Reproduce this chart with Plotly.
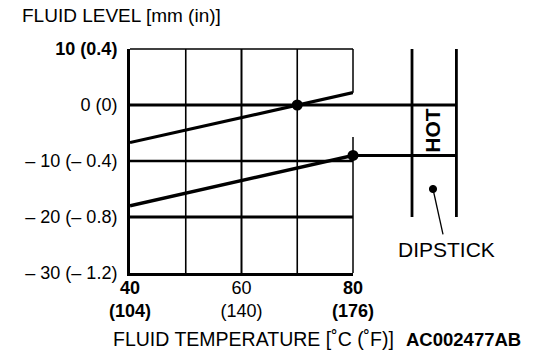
import plotly.graph_objects as go

# ---------------- data ----------------
TEMPS_C = [40, 80]
UPPER_LEVEL = [-6.7, 2.2]
LOWER_LEVEL = [-18.0, -9.0]
CHECK_TEMPS = [70, 80]
CHECK_LEVELS = [0, -9]
X_TICKS = [40, 60, 80]
X_TICK_TEXT = ["<b>40</b><br><b>(104)</b>", "60<br>(140)", "<b>80</b><br><b>(176)</b>"]
Y_TICKS = [10, 0, -10, -20, -30]
Y_TICK_TEXT = ["<b>10 (0.4)</b>", "0 (0)", "\u2013 10 (\u2013 0.4)", "\u2013 20 (\u2013 0.8)", "\u2013 30 (\u2013 1.2)"]
V_GRID = [50, 60, 70]
H_GRID = [0, -10, -20]
HOT_BAND = [0, -9]
DIPSTICK_SPAN = [10, -20]
DIPSTICK_DOT_LEVEL = -15

FONT = "Liberation Sans, Arial, Helvetica, sans-serif"
BLACK = "#000000"

fig = go.Figure()
fig.add_trace(go.Scatter(x=TEMPS_C, y=UPPER_LEVEL, mode="lines",
                         line=dict(color=BLACK, width=3.2), hoverinfo="skip"))
fig.add_trace(go.Scatter(x=TEMPS_C, y=LOWER_LEVEL, mode="lines",
                         line=dict(color=BLACK, width=3.4), hoverinfo="skip"))
fig.add_trace(go.Scatter(x=CHECK_TEMPS, y=CHECK_LEVELS, mode="markers",
                         marker=dict(color=BLACK, size=11), cliponaxis=False, hoverinfo="skip"))

shapes = []
# vertical grid
for v, w in zip(V_GRID, [1.6, 2.0, 1.6]):
    shapes.append(dict(type="line", xref="x", yref="paper", x0=v, x1=v, y0=0, y1=1,
                       line=dict(color=BLACK, width=w), layer="below"))
# horizontal grid
for h, w in zip(H_GRID, [3, 2.3, 3]):
    shapes.append(dict(type="line", xref="paper", yref="y", x0=0, x1=1, y0=h, y1=h,
                       line=dict(color=BLACK, width=w), layer="below"))
# top border
shapes.append(dict(type="line", xref="paper", yref="paper", x0=0, x1=1, y0=1, y1=1,
                   line=dict(color=BLACK, width=1.5)))
# right border (with gap)
shapes.append(dict(type="line", xref="paper", yref="y", x0=1, x1=1, y0=Y_TICKS[0], y1=UPPER_LEVEL[-1],
                   line=dict(color=BLACK, width=1.5)))
shapes.append(dict(type="line", xref="paper", yref="y", x0=1, x1=1, y0=-5.7, y1=Y_TICKS[-1],
                   line=dict(color=BLACK, width=1.5)))
# dipstick
DL, DR = 1.2646, 1.4637
for xv in (DL, DR):
    shapes.append(dict(type="line", xref="paper", yref="y", x0=xv, x1=xv,
                       y0=DIPSTICK_SPAN[0], y1=DIPSTICK_SPAN[1], line=dict(color=BLACK, width=2.8)))
for lvl in HOT_BAND:
    shapes.append(dict(type="line", xref="paper", yref="y", x0=1, x1=DR, y0=lvl, y1=lvl,
                       line=dict(color=BLACK, width=3)))
shapes.append(dict(type="circle", xref="paper", yref="y", xsizemode="pixel", ysizemode="pixel",
                   xanchor=1.3587, yanchor=DIPSTICK_DOT_LEVEL, x0=-3.6, x1=3.6, y0=-3.6, y1=3.6,
                   fillcolor=BLACK, line=dict(color=BLACK, width=1)))
shapes.append(dict(type="line", xref="paper", yref="y", x0=1.3587, x1=1.4036,
                   y0=DIPSTICK_DOT_LEVEL, y1=-23.1, line=dict(color=BLACK, width=1.3)))

annotations = [
    dict(text="FLUID LEVEL [mm (in)]", xref="paper", yref="paper", x=-0.493, y=1.1505,
         xanchor="left", yanchor="middle", showarrow=False, font=dict(size=19, color=BLACK)),
    dict(text="FLUID TEMPERATURE [\u02daC (\u02daF)]", xref="paper", yref="paper", x=-0.0852, y=-0.2965,
         xanchor="left", yanchor="middle", showarrow=False, font=dict(size=19.5, color=BLACK)),
    dict(text="<b>AC002477AB</b>", xref="paper", yref="paper", x=1.2287, y=-0.2965,
         xanchor="left", yanchor="middle", showarrow=False, font=dict(size=18.5, color=BLACK)),
    dict(text="<b>HOT</b>", xref="paper", yref="y", x=1.3565, y=sum(HOT_BAND) / 2,
         xanchor="center", yanchor="middle", textangle=-90, showarrow=False,
         font=dict(size=21, color=BLACK)),
    dict(text="DIPSTICK", xref="paper", yref="paper", x=1.420, y=0.104,
         xanchor="center", yanchor="middle", showarrow=False, font=dict(size=21, color=BLACK)),
]

fig.update_layout(
    width=560, height=358,
    margin=dict(l=130, r=207, t=49, b=85, pad=0),
    paper_bgcolor="white", plot_bgcolor="white",
    showlegend=False,
    font=dict(family=FONT, color=BLACK, size=18),
    shapes=shapes, annotations=annotations,
    xaxis=dict(range=[40, 80], showgrid=False, zeroline=False, showline=True,
               linecolor=BLACK, linewidth=3, ticks="", tickvals=X_TICKS, ticktext=X_TICK_TEXT,
               tickfont=dict(size=18, family=FONT, color=BLACK), ticklabelstandoff=-4, fixedrange=True),
    yaxis=dict(range=[-30, 10], showgrid=False, zeroline=False, showline=True,
               linecolor=BLACK, linewidth=3, ticks="", tickvals=Y_TICKS, ticktext=Y_TICK_TEXT,
               tickfont=dict(size=18, family=FONT, color=BLACK), ticklabelstandoff=6, fixedrange=True),
)

fig.write_html("out.html", config={"displayModeBar": False, "staticPlot": True},
               post_script="document.body.style.margin='0';document.body.style.padding='0';")
